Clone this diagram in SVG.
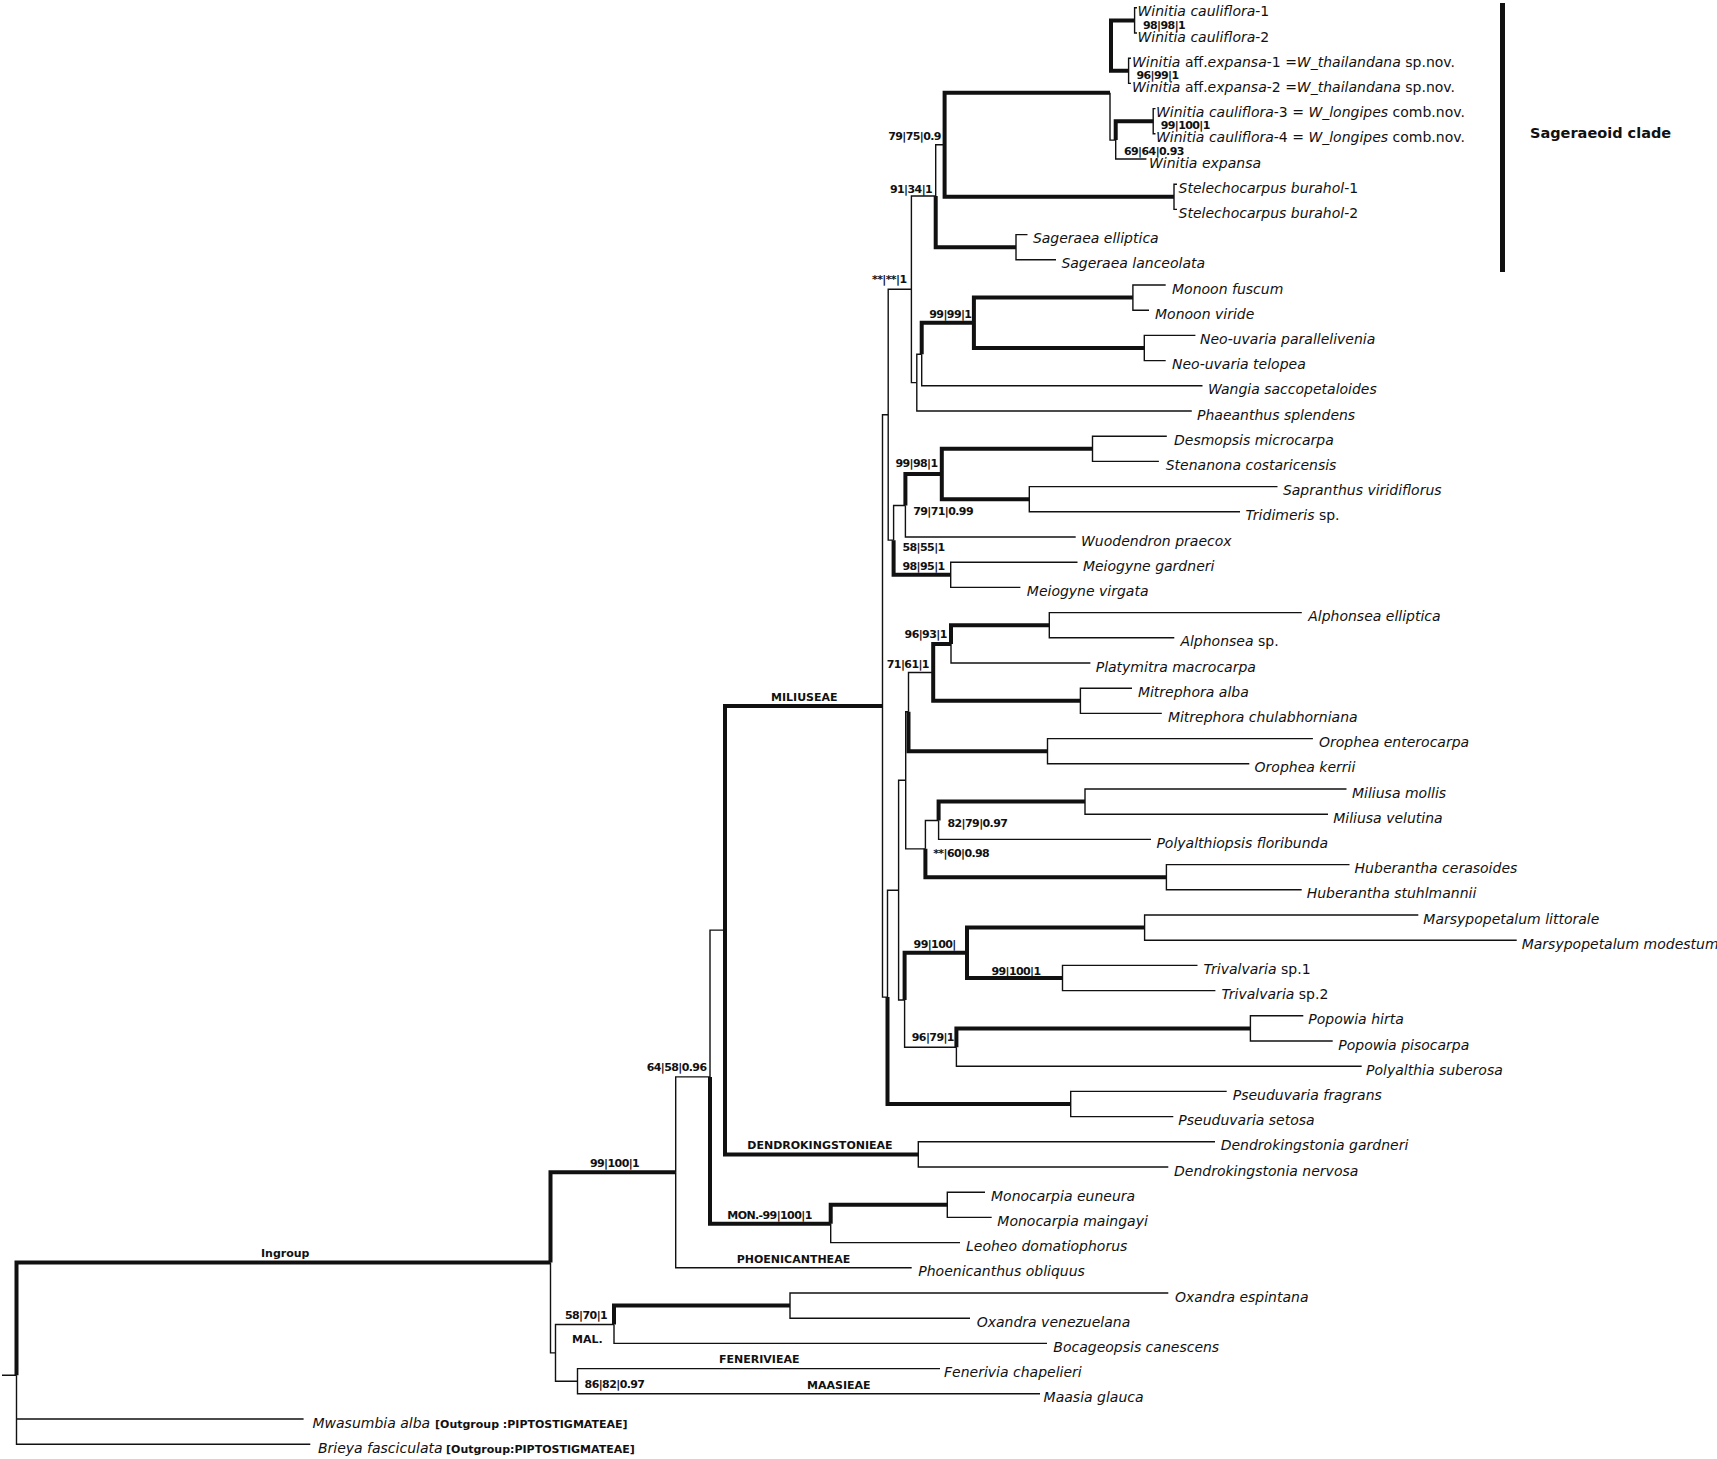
<svg xmlns="http://www.w3.org/2000/svg" width="1717" height="1459" viewBox="0 0 1717 1459">
<style>
.t{fill:none;stroke:#111;stroke-width:1.4;stroke-linejoin:miter}
.T{fill:none;stroke:#111;stroke-width:4;stroke-linejoin:miter}
.lab{font-family:"DejaVu Sans",sans-serif;font-size:14px;font-style:italic;fill:#111}
.n{font-style:normal}
.sup{font-family:"DejaVu Sans",sans-serif;font-size:11px;font-weight:bold;letter-spacing:-0.6px;fill:#111}
.cl{font-family:"DejaVu Sans",sans-serif;font-size:11px;font-weight:bold;fill:#111}
.og{font-style:normal;font-weight:bold;font-size:11px}
</style>
<rect width="1717" height="1459" fill="#fff"/>
<g id="connectors">
<path class="t" d="M1134.6 20.4V7.8H1137M1134.6 20.4V33H1137M1128.6 70.8V58.2H1131M1128.6 70.8V83.4H1131M1153.2 121.2V108.6H1155.5M1153.2 121.2V133.8H1155.5M1115.7 140.1V159H1146.4M1174 196.8V184.2H1177M1174 196.8V209.4H1177M1016 247.2V234.6H1027.5M1016 247.2V259.8H1056M1132.9 297.6V285H1165.7M1132.9 297.6V310.2H1149M1144.3 348V335.4H1195.4M1144.3 348V360.6H1165.7M921.7 354.3V385.8H1202.5M916.8 382.65V411H1191.8M1092.5 448.8V436.2H1166.8M1092.5 448.8V461.4H1158.9M1029.3 499.2V486.6H1277.5M1029.3 499.2V511.8H1240M905.4 505.5V537H1075.7M950.7 574.8V562.2H1077.5M950.7 574.8V587.4H1020.4M1049.3 625.2V612.6H1301.8M1049.3 625.2V637.8H1174.3M951 644.1V663H1090.4M1080.4 700.8V688.2H1132M1080.4 700.8V713.4H1161.8M1047.5 751.2V738.6H1312.9M1047.5 751.2V763.8H1249.3M1085 801.6V789H1346.5M1085 801.6V814.2H1328M938.6 820.5V839.4H1151M1166.4 877.2V864.6H1349.5M1166.4 877.2V889.8H1301.7M1144.6 927.6V915H1418.3M1144.6 927.6V940.2H1516.7M1062.5 978V965.4H1197.5M1062.5 978V990.6H1215.4M1250.4 1028.4V1015.8H1303.3M1250.4 1028.4V1041H1332.7M956.4 1047.3V1066.2H1361.7M1070.7 1104V1091.4H1226.7M1070.7 1104V1116.6H1173.3M918.3 1154.4V1141.8H1215M918.3 1154.4V1167H1168.3M947.3 1204.8V1192.2H985M947.3 1204.8V1217.4H991.7M830.7 1223.7V1242.6H960M675.7 1172.35V1267.8H911.7M790 1305.6V1293H1168.3M790 1305.6V1318.2H970M614 1324.5V1343.4H1047M577.5 1381.2V1368.6H940M577.5 1381.2V1393.8H1040M16.5 1375.3V1419H303.6M16.5 1375.3V1444.2H310.3M2 1375.3H16.5"/>
<path class="t" d="M1110 92.85V140.1H1115.7M935.7 196V144.8H944.6M911.4 289.3V196H935.7M911.4 289.3V382.65H916.8M916.8 382.65V354.3H921.7M888.2 414.7V289.3H911.4M888.2 414.7V540.15H893.6M893.6 540.15V505.5H905.4M882.5 705.9V414.7H888.2M882.5 705.9V997.1H887.5M887.5 997.1V890.2H898.6M898.6 890.2V780.3H905.7M898.6 890.2V1000.05H904.6M905.7 780.3V711.8H908.5M905.7 780.3V848.85H925.4M908.5 711.8V672.45H933.2M925.4 848.85V820.5H938.6M904.6 1000.05V1047.3H956.4M710 1076.9V930.15H725M675.7 1172.35V1076.9H710M550.5 1262.6V1352.85H555.5M555.5 1352.85V1324.5H614M555.5 1352.85V1381.2H577.5"/>
<path class="T" d="M1111 45.6V20.4H1134.6M1111 45.6V70.8H1128.6M1115.7 140.1V121.2H1153.2M944.6 144.8V92.85H1110M944.6 144.8V196.8H1174M935.7 196V247.2H1016M973.9 322.8V297.6H1132.9M973.9 322.8V348H1144.3M921.7 354.3V322.8H973.9M941.8 474V448.8H1092.5M941.8 474V499.2H1029.3M905.4 505.5V474H941.8M893.6 540.15V574.8H950.7M951 644.1V625.2H1049.3M933.2 672.45V644.1H951M933.2 672.45V700.8H1080.4M908.5 711.8V751.2H1047.5M938.6 820.5V801.6H1085M925.4 848.85V877.2H1166.4M967 952.8V927.6H1144.6M967 952.8V978H1062.5M904.6 1000.05V952.8H967M956.4 1047.3V1028.4H1250.4M887.5 997.1V1104H1070.7M725 930.15V705.9H882.5M725 930.15V1154.4H918.3M830.7 1223.7V1204.8H947.3M710 1076.9V1223.7H830.7M614 1324.5V1305.6H790M550.5 1262.6V1172.35H675.7M16.5 1375.3V1262.6H550.5"/>
<line x1="1502.5" y1="3" x2="1502.5" y2="272" stroke="#111" stroke-width="5"/>
</g>
<g id="tips" class="lab">
<g id="n0"><text class="lab" x="1137.5" y="16.3">Winitia cauliflora<tspan class="n">-1</tspan></text></g>
<g id="n1"><text class="lab" x="1137.5" y="41.5">Winitia cauliflora<tspan class="n">-2</tspan></text></g>
<g id="n2"><text class="lab" x="1132" y="66.7">Winitia <tspan class="n">aff.</tspan>expansa<tspan class="n">-1 =</tspan>W_thailandana<tspan class="n"> sp.nov.</tspan></text></g>
<g id="n3"><text class="lab" x="1132" y="91.9">Winitia <tspan class="n">aff.</tspan>expansa<tspan class="n">-2 =</tspan>W_thailandana<tspan class="n"> sp.nov.</tspan></text></g>
<g id="n4"><text class="lab" x="1156" y="117.1">Winitia cauliflora<tspan class="n">-3 = </tspan>W_longipes<tspan class="n"> comb.nov.</tspan></text></g>
<g id="n5"><text class="lab" x="1156" y="142.3">Winitia cauliflora<tspan class="n">-4 = </tspan>W_longipes<tspan class="n"> comb.nov.</tspan></text></g>
<g id="n6"><text class="lab" x="1149" y="167.5">Winitia expansa</text></g>
<g id="n7"><text class="lab" x="1178.6" y="192.7">Stelechocarpus burahol<tspan class="n">-1</tspan></text></g>
<g id="n8"><text class="lab" x="1178.6" y="217.9">Stelechocarpus burahol<tspan class="n">-2</tspan></text></g>
<g id="n9"><text class="lab" x="1032.9" y="243.1">Sageraea elliptica</text></g>
<g id="n10"><text class="lab" x="1061.4" y="268.3">Sageraea lanceolata</text></g>
<g id="n11"><text class="lab" x="1172" y="293.5">Monoon fuscum</text></g>
<g id="n12"><text class="lab" x="1155" y="318.7">Monoon viride</text></g>
<g id="n13"><text class="lab" x="1200" y="343.9">Neo-uvaria parallelivenia</text></g>
<g id="n14"><text class="lab" x="1172" y="369.1">Neo-uvaria telopea</text></g>
<g id="n15"><text class="lab" x="1207.9" y="394.3">Wangia saccopetaloides</text></g>
<g id="n16"><text class="lab" x="1197" y="419.5">Phaeanthus splendens</text></g>
<g id="n17"><text class="lab" x="1174" y="444.7">Desmopsis microcarpa</text></g>
<g id="n18"><text class="lab" x="1165.7" y="469.9">Stenanona costaricensis</text></g>
<g id="n19"><text class="lab" x="1282.9" y="495.1">Sapranthus viridiflorus</text></g>
<g id="n20"><text class="lab" x="1245.4" y="520.3">Tridimeris<tspan class="n"> sp.</tspan></text></g>
<g id="n21"><text class="lab" x="1081" y="545.5">Wuodendron praecox</text></g>
<g id="n22"><text class="lab" x="1082.9" y="570.7">Meiogyne gardneri</text></g>
<g id="n23"><text class="lab" x="1026.8" y="595.9">Meiogyne virgata</text></g>
<g id="n24"><text class="lab" x="1308.2" y="621.1">Alphonsea elliptica</text></g>
<g id="n25"><text class="lab" x="1180.4" y="646.3">Alphonsea<tspan class="n"> sp.</tspan></text></g>
<g id="n26"><text class="lab" x="1095.7" y="671.5">Platymitra macrocarpa</text></g>
<g id="n27"><text class="lab" x="1137.9" y="696.7">Mitrephora alba</text></g>
<g id="n28"><text class="lab" x="1167.9" y="721.9">Mitrephora chulabhorniana</text></g>
<g id="n29"><text class="lab" x="1319" y="747.1">Orophea enterocarpa</text></g>
<g id="n30"><text class="lab" x="1254.6" y="772.3">Orophea kerrii</text></g>
<g id="n31"><text class="lab" x="1352" y="797.5">Miliusa mollis</text></g>
<g id="n32"><text class="lab" x="1333.2" y="822.7">Miliusa velutina</text></g>
<g id="n33"><text class="lab" x="1156.4" y="847.9">Polyalthiopsis floribunda</text></g>
<g id="n34"><text class="lab" x="1354.6" y="873.1">Huberantha cerasoides</text></g>
<g id="n35"><text class="lab" x="1306.7" y="898.3">Huberantha stuhlmannii</text></g>
<g id="n36"><text class="lab" x="1423.3" y="923.5">Marsypopetalum littorale</text></g>
<g id="n37"><text class="lab" x="1521.7" y="948.7">Marsypopetalum modestum</text></g>
<g id="n38"><text class="lab" x="1203.6" y="973.9">Trivalvaria<tspan class="n"> sp.1</tspan></text></g>
<g id="n39"><text class="lab" x="1221.4" y="999.1">Trivalvaria<tspan class="n"> sp.2</tspan></text></g>
<g id="n40"><text class="lab" x="1308.3" y="1024.3">Popowia hirta</text></g>
<g id="n41"><text class="lab" x="1338.3" y="1049.5">Popowia pisocarpa</text></g>
<g id="n42"><text class="lab" x="1366" y="1074.7">Polyalthia suberosa</text></g>
<g id="n43"><text class="lab" x="1232.7" y="1099.9">Pseuduvaria fragrans</text></g>
<g id="n44"><text class="lab" x="1178.3" y="1125.1">Pseuduvaria setosa</text></g>
<g id="n45"><text class="lab" x="1220.7" y="1150.3">Dendrokingstonia gardneri</text></g>
<g id="n46"><text class="lab" x="1174" y="1175.5">Dendrokingstonia nervosa</text></g>
<g id="n47"><text class="lab" x="991" y="1200.7">Monocarpia euneura</text></g>
<g id="n48"><text class="lab" x="997.3" y="1225.9">Monocarpia maingayi</text></g>
<g id="n49"><text class="lab" x="966" y="1251.1">Leoheo domatiophorus</text></g>
<g id="n50"><text class="lab" x="918.3" y="1276.3">Phoenicanthus obliquus</text></g>
<g id="n51"><text class="lab" x="1175" y="1301.5">Oxandra espintana</text></g>
<g id="n52"><text class="lab" x="976.7" y="1326.7">Oxandra venezuelana</text></g>
<g id="n53"><text class="lab" x="1053.3" y="1351.9">Bocageopsis canescens</text></g>
<g id="n54"><text class="lab" x="944" y="1377.1">Fenerivia chapelieri</text></g>
<g id="n55"><text class="lab" x="1043.6" y="1402.3">Maasia glauca</text></g>
<g id="n56"><text class="lab" x="312.5" y="1427.5">Mwasumbia alba <tspan class="og" x="435">[Outgroup :PIPTOSTIGMATEAE]</tspan></text></g>
<g id="n57"><text class="lab" x="317.9" y="1452.7">Brieya fasciculata <tspan class="og" x="446">[Outgroup:PIPTOSTIGMATEAE]</tspan></text></g>
</g>
<g id="supports">
<g id="s-c12"><text class="sup" x="1143" y="29">98|98|1</text></g>
<g id="s-ae"><text class="sup" x="1136.4" y="79">96|99|1</text></g>
<g id="s-c34"><text class="sup" x="1160.7" y="128.5">99|100|1</text></g>
<g id="s-q"><text class="sup" x="1124" y="154.5">69|64|0.93</text></g>
<g id="s-sw"><text class="sup" x="888.2" y="139.5">79|75|0.9</text></g>
<g id="s-ss"><text class="sup" x="890" y="193">91|34|1</text></g>
<g id="s-n1"><text class="sup" x="872" y="282.5">**|**|1</text></g>
<g id="s-mn"><text class="sup" x="929.3" y="318">99|99|1</text></g>
<g id="s-n7"><text class="sup" x="895.4" y="467">99|98|1</text></g>
<g id="s-st"><text class="sup" x="913.2" y="515">79|71|0.99</text></g>
<g id="s-n5"><text class="sup" x="902.5" y="551">58|55|1</text></g>
<g id="s-meio"><text class="sup" x="902.5" y="569.5">98|95|1</text></g>
<g id="s-ap"><text class="sup" x="904.6" y="638">96|93|1</text></g>
<g id="s-am"><text class="sup" x="886.8" y="667.5">71|61|1</text></g>
<g id="s-mp"><text class="sup" x="947.5" y="826.5">82|79|0.97</text></g>
<g id="s-hm"><text class="sup" x="933.2" y="856.5">**|60|0.98</text></g>
<g id="s-mt"><text class="sup" x="913.6" y="948">99|100|</text></g>
<g id="s-tri"><text class="sup" x="991.4" y="975">99|100|1</text></g>
<g id="s-pp"><text class="sup" x="911.8" y="1041">96|79|1</text></g>
<g id="s-q2"><text class="sup" x="646.7" y="1071">64|58|0.96</text></g>
<g id="s-q3"><text class="sup" x="590" y="1167">99|100|1</text></g>
<g id="s-mon"><text class="sup" x="727.3" y="1218.5">MON.-99|100|1</text></g>
<g id="s-mal"><text class="sup" x="565" y="1319">58|70|1</text><text class="cl" x="572" y="1343">MAL.</text></g>
<g id="s-fm"><text class="sup" x="584.6" y="1387.5">86|82|0.97</text></g>
<g id="c-miliuseae"><text class="cl" x="771" y="700.5">MILIUSEAE</text></g>
<g id="c-dendro"><text class="cl" x="747.3" y="1148.5">DENDROKINGSTONIEAE</text></g>
<g id="c-phoen"><text class="cl" x="736.7" y="1262.5">PHOENICANTHEAE</text></g>
<g id="c-fen"><text class="cl" x="719" y="1362.5">FENERIVIEAE</text></g>
<g id="c-maas"><text class="cl" x="807" y="1389">MAASIEAE</text></g>
<g id="c-ingroup"><text class="cl" x="261" y="1257">Ingroup</text></g>
<g id="c-sageraeoid"><text class="cl" x="1530" y="138" style="font-size:14.5px">Sageraeoid clade</text></g>
</g>
</svg>
